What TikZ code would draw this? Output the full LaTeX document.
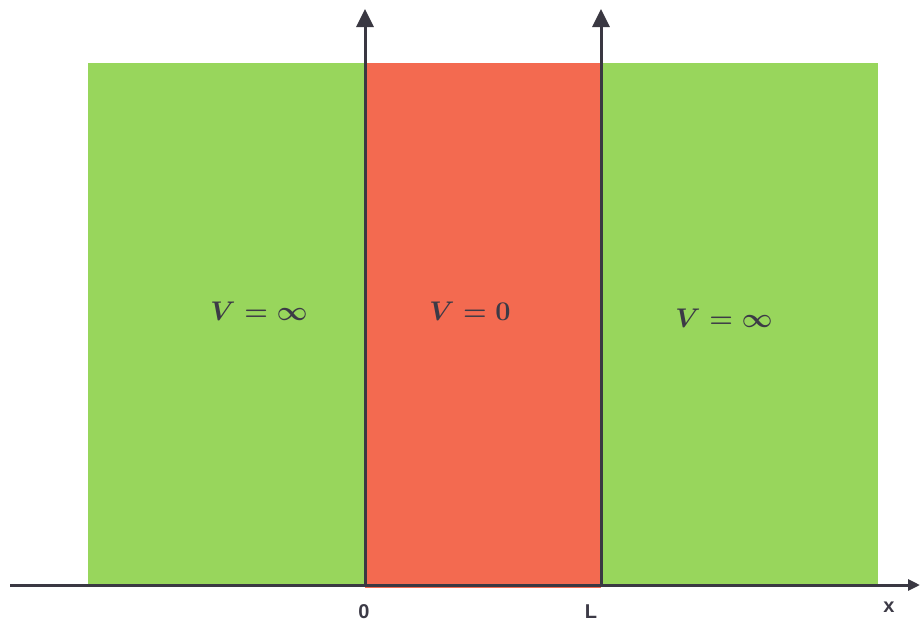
\RequirePackage{fix-cm}
\documentclass[tikz,border=0pt]{standalone}
\usepackage{fontspec}
\setsansfont{Liberation Sans}
\usetikzlibrary{arrows.meta}
\definecolor{wellgreen}{RGB}{152,214,92}
\definecolor{wellred}{RGB}{243,106,80}
\definecolor{axisgray}{RGB}{58,56,66}
\definecolor{textgray}{RGB}{60,58,70}
\tikzset{
  region/.style={draw=none},
  axisline/.style={draw=axisgray, line width=3pt},
  vaxis/.style={axisline, -{Triangle[length=18pt,width=17pt]}},
  haxis/.style={axisline, -{Triangle[length=12pt,width=11pt]}},
  potlabel/.style={text=textgray, font=\fontsize{27}{32}\selectfont\boldmath},
  ticklabel/.style={text=textgray, font=\fontsize{20}{24}\selectfont\sffamily\bfseries},
}
\begin{document}
\begin{tikzpicture}[x=1pt,y=-1pt]
\useasboundingbox (0,0) rectangle (920,624);
\fill[wellgreen] (88,63) rectangle (365,585);
\fill[wellred] (365,63) rectangle (601,588);
\fill[wellgreen] (601,63) rectangle (878,585);
\coordinate (xstart) at (10,585);
\coordinate (xend) at (920,585);
\coordinate (o) at (365,585);
\coordinate (otop) at (365,9);
\coordinate (l) at (601,585);
\coordinate (ltop) at (601,9);
\draw[haxis] (xstart) -- (xend);
\draw[vaxis] (o) -- (otop);
\draw[vaxis] (l) -- (ltop);
\node[potlabel] (vl) at (259,311) {$V=\infty$};
\node[potlabel] (vm) at (470,311) {$V=0$};
\node[potlabel] (vr) at (724,318) {$V=\infty$};
\node[ticklabel] (zero) at (364,612) {0};
\node[ticklabel] (ell) at (591,612) {L};
\node[ticklabel] (xl) at (889,607) {x};
\end{tikzpicture}
\end{document}
